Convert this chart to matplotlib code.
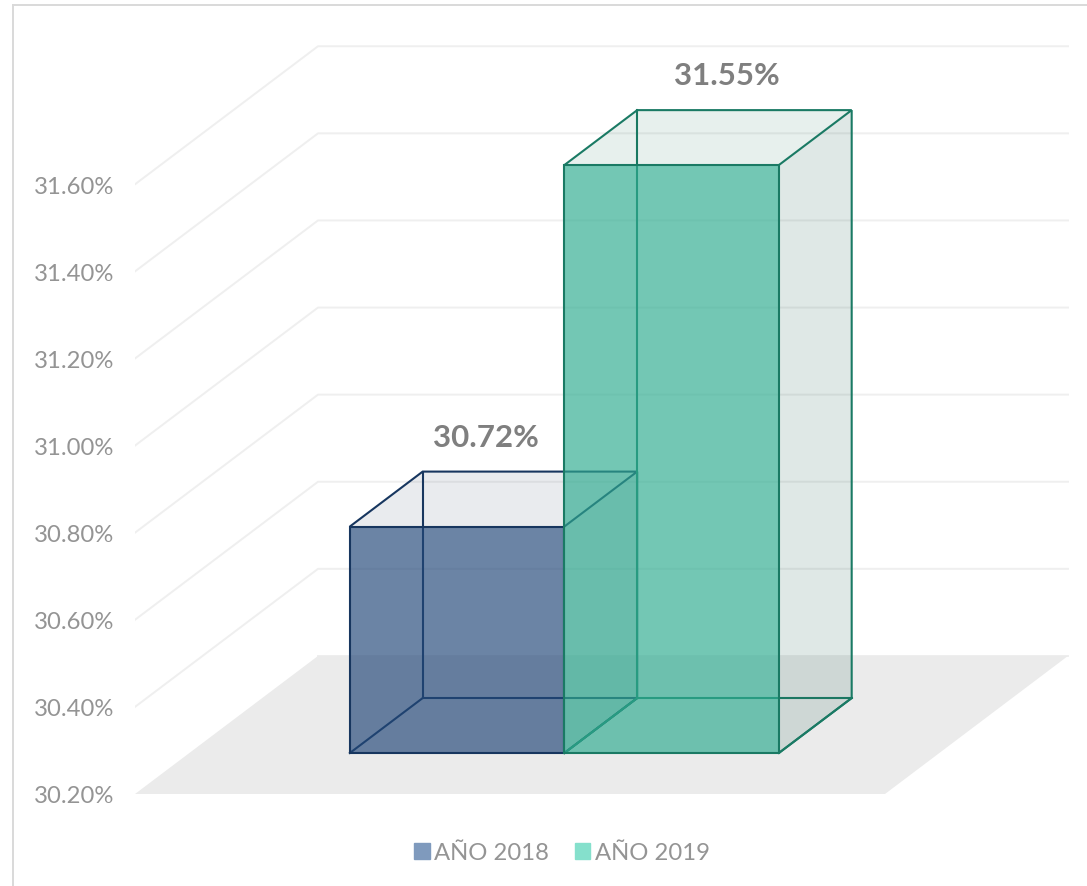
import matplotlib
matplotlib.use('Agg')
import matplotlib.pyplot as plt
from matplotlib.lines import Line2D
from matplotlib.patches import Patch, Polygon

plt.rcParams['font.family'] = ['Lato', 'DejaVu Sans']

# datos
series = ['AÑO 2018', 'AÑO 2019']
valores = [30.72, 31.55]
etiquetas = ['30.72%', '31.55%']
ticks = [30.2, 30.4, 30.6, 30.8, 31.0, 31.2, 31.4, 31.6]
tick_labels = ['30.20%', '30.40%', '30.60%', '30.80%', '31.00%', '31.20%', '31.40%', '31.60%']

base = 30.2
# proyeccion oblicua: cuanto se corre x y el valor al llegar al fondo
DX = 0.244
DY = 0.317
ancho = 0.286
prof0, prof1 = 0.297, 0.695

col_frente = ['#234879', '#2FAC90']
col_borde = ['#17365F', '#1A7A64']
col_tapa = ['#2D415F', '#197355']
col_lado = ['#2D415F', '#2A6659']
col_leyenda = ['#7F9ABD', '#85E0CC']
gris = '#949494'


def proy(x, v, d):
    return (x + d * DX, v + d * DY)


fig = plt.figure(figsize=(10.87, 8.87), dpi=100)
ax = fig.add_axes([135 / 1087, (887 - 795) / 887, (1087 - 135) / 1087, 795 / 887])
ax.set_xlim(0, 952 / 750)
ax.set_ylim(base, base + 795 * 0.2 / 87.1)
for s in ax.spines.values():
    s.set_visible(False)
ax.set_xticks([])
ax.set_yticks(ticks)
ax.set_yticklabels(tick_labels, fontsize=17.2, color=gris)
ax.tick_params(axis='y', length=0, pad=15)

# paredes
for t in ticks[1:]:
    a, b, c = proy(0, t, 0), proy(0, t, 1), proy(1, t, 1)
    ax.plot([a[0], b[0], c[0]], [a[1], b[1], c[1]], color='#EFEFEF', lw=1.4, zorder=1)
a, b = proy(0, base, 1), proy(1, base, 1)
ax.plot([a[0], b[0]], [a[1], b[1]], color='#EFEFEF', lw=1.4, zorder=1)

# piso
ax.add_patch(Polygon([proy(0, base, 0), proy(1, base, 0), proy(1, base, 1), proy(0, base, 1)],
                     closed=True, facecolor='#EBEBEB', edgecolor='none', zorder=2))

# barras
z = 3
for i, v in enumerate(valores):
    x0 = 0.5 - ancho + i * ancho
    x1 = x0 + ancho
    # aristas del fondo
    for p, q in [((x0, base, prof1), (x1, base, prof1)),
                 ((x0, base, prof1), (x0, v, prof1)),
                 ((x0, base, prof0), (x0, base, prof1)),
                 ((x1, base, prof0), (x1, base, prof1))]:
        a, b = proy(*p), proy(*q)
        ax.plot([a[0], b[0]], [a[1], b[1]], color=col_borde[i], lw=1.5, zorder=z)
    z += 1
    ax.add_patch(Polygon([proy(x0, v, prof0), proy(x1, v, prof0), proy(x1, v, prof1), proy(x0, v, prof1)],
                         closed=True, facecolor=col_tapa[i], alpha=0.1, edgecolor='none', zorder=z))
    ax.add_patch(Polygon([proy(x1, base, prof0), proy(x1, base, prof1), proy(x1, v, prof1), proy(x1, v, prof0)],
                         closed=True, facecolor=col_lado[i], alpha=0.15, edgecolor='none', zorder=z))
    for pts in [[proy(x0, v, prof0), proy(x0, v, prof1), proy(x1, v, prof1), proy(x1, v, prof0)],
                [proy(x1, base, prof0), proy(x1, base, prof1), proy(x1, v, prof1)]]:
        ax.add_patch(Polygon(pts, closed=False, fill=False, edgecolor=col_borde[i], lw=1.5, zorder=z))
    z += 1
    ax.add_patch(Polygon([proy(x0, base, prof0), proy(x1, base, prof0), proy(x1, v, prof0), proy(x0, v, prof0)],
                         closed=True, facecolor=col_frente[i], alpha=0.67, edgecolor='none', zorder=z))
    ax.add_patch(Polygon([proy(x0, base, prof0), proy(x1, base, prof0), proy(x1, v, prof0), proy(x0, v, prof0)],
                         closed=True, fill=False, edgecolor=col_borde[i], lw=1.5, zorder=z))
    z += 1

# etiquetas de valor, corridas a mano respecto al fondo de la barra
corrimiento = [-44, -18]
for i, v in enumerate(valores):
    x0 = 0.5 - ancho + i * ancho
    ax.annotate(etiquetas[i], xy=proy(x0 + ancho / 2, v, prof1),
                xytext=(corrimiento[i] * 0.72, 35 * 0.72), textcoords='offset points',
                ha='center', va='center', fontsize=22.5, fontweight='bold', color='#7F7F7F', zorder=20)

# leyenda
handles = [Patch(facecolor=col_leyenda[i], edgecolor=col_leyenda[i], label=series[i]) for i in range(2)]
fig.legend(handles=handles, loc='center', bbox_to_anchor=(562 / 1087, 1 - 854 / 887), ncol=2,
           frameon=False, fontsize=17.2, labelcolor=gris, handlelength=0.66, handleheight=0.66,
           handletextpad=0.2, columnspacing=1.07, borderpad=0, borderaxespad=0)

# marco del grafico, solo se ve arriba y a la izquierda
fig.add_artist(Line2D([13 / 1087, 13 / 1087], [0, 1 - 6 / 887], color='#D9D9D9', lw=1.4))
fig.add_artist(Line2D([13 / 1087, 1], [1 - 6 / 887, 1 - 6 / 887], color='#D9D9D9', lw=1.4))

fig.savefig('out.png', dpi=100)
